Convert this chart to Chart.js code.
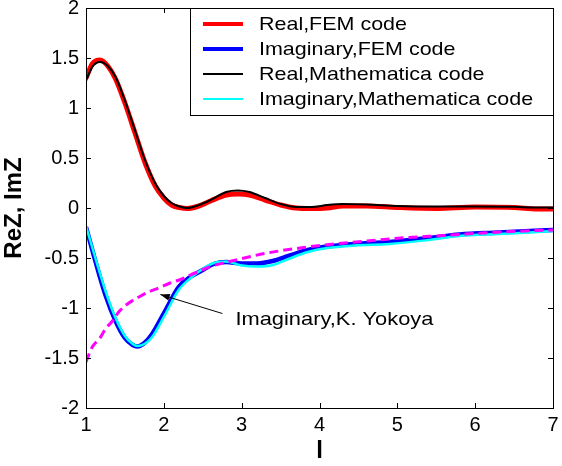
<!DOCTYPE html>
<html>
<head>
<meta charset="utf-8">
<script src="https://cdn.jsdelivr.net/npm/chart.js@4.4.0/dist/chart.umd.min.js"></script>
<style>
  html, body { margin: 0; padding: 0; background: #fff; }
  #wrap { width: 562px; height: 466px; }
</style>
</head>
<body>
<div id="wrap"><canvas id="zChart" width="562" height="466"></canvas></div>
<script>
// Valeurs
const xReal = [1.0, 1.08, 1.18, 1.28, 1.38, 1.5, 1.63, 1.76, 1.89, 2.0, 2.1, 2.2, 2.3, 2.45, 2.6, 2.8, 2.95, 3.1, 3.3, 3.5, 3.7, 3.9, 4.1, 4.3, 4.6, 5.0, 5.5, 6.0, 6.5, 6.8, 7.0];
const realFEM = [1.30, 1.44, 1.48, 1.42, 1.29, 1.05, 0.75, 0.45, 0.22, 0.10, 0.03, 0.005, -0.005, 0.02, 0.07, 0.13, 0.14, 0.13, 0.08, 0.03, 0.0, -0.005, 0.0, 0.02, 0.02, 0.005, -0.005, 0.01, 0.005, -0.01, -0.01];
const realMath = [1.27, 1.41, 1.46, 1.42, 1.31, 1.075, 0.775, 0.475, 0.245, 0.12, 0.05, 0.015, 0.0, 0.03, 0.08, 0.16, 0.175, 0.16, 0.10, 0.04, 0.01, 0.01, 0.03, 0.04, 0.035, 0.02, 0.015, 0.015, 0.012, 0.005, 0.005];

const xImag = [1.0, 1.12, 1.25, 1.38, 1.5, 1.6, 1.66, 1.75, 1.85, 2.02, 2.19, 2.36, 2.5, 2.64, 2.8, 3.0, 3.2, 3.4, 3.6, 3.85, 4.1, 4.45, 4.9, 5.4, 5.8, 6.3, 6.7, 7.0];
const imagFEM = [-0.19, -0.53, -0.87, -1.13, -1.30, -1.37, -1.385, -1.35, -1.26, -1.025, -0.79, -0.68, -0.62, -0.56, -0.54, -0.555, -0.555, -0.53, -0.48, -0.42, -0.385, -0.36, -0.34, -0.30, -0.265, -0.245, -0.23, -0.22];
const imagMath = [-0.18, -0.50, -0.83, -1.10, -1.28, -1.36, -1.38, -1.36, -1.29, -1.06, -0.82, -0.69, -0.61, -0.55, -0.535, -0.575, -0.585, -0.57, -0.51, -0.44, -0.40, -0.375, -0.36, -0.32, -0.28, -0.26, -0.245, -0.23];

const xYokoya = [1.0, 1.08, 1.18, 1.25, 1.35, 1.42, 1.55, 1.68, 1.8, 1.93, 2.08, 2.23, 2.4, 2.62, 2.9, 3.33, 3.75, 4.18, 4.61, 5.04, 5.6, 6.33, 7.0];
const imagYokoya = [-1.54, -1.39, -1.30, -1.21, -1.12, -1.04, -0.95, -0.89, -0.84, -0.80, -0.75, -0.71, -0.65, -0.58, -0.525, -0.45, -0.40, -0.36, -0.33, -0.30, -0.275, -0.24, -0.22];

const xTicks = [1, 2, 3, 4, 5, 6, 7];
const yTicks = [-2, -1.5, -1, -0.5, 0, 0.5, 1, 1.5, 2];

// flèche + texte de l'annotation (coordonnées données)
const noteText = 'Imaginary,K. Yokoya';
const notePos = { x: 2.92, y: -1.115 };
const arrowFrom = { x: 2.752, y: -1.055 };
const arrowTo = { x: 1.955, y: -0.865 };

const pts = (xs, ys) => xs.map((x, i) => ({ x, y: ys[i] }));

const FONT = 'Arial, "Liberation Sans", sans-serif';

// texte un peu étiré en largeur comme sur l'original
function wideText(c, txt, x, y, k) {
    c.save();
    c.translate(x, y);
    c.scale(k, 1);
    c.fillText(txt, 0, 0);
    c.restore();
}

// cadre + graduations intérieures façon Matlab
const boxPlugin = {
    id: 'boxTicks',
    afterDatasetsDraw(chart) {
        const c = chart.ctx, a = chart.chartArea;
        const sx = chart.scales.x, sy = chart.scales.y;
        c.save();
        c.strokeStyle = '#000';
        c.lineWidth = 1;
        c.beginPath();
        xTicks.forEach(v => {
            const px = Math.round(sx.getPixelForValue(v)) + 0.5;
            c.moveTo(px, a.bottom); c.lineTo(px, a.bottom - 5);
            c.moveTo(px, a.top); c.lineTo(px, a.top + 5);
        });
        yTicks.forEach(v => {
            const py = Math.round(sy.getPixelForValue(v)) + 0.5;
            c.moveTo(a.left, py); c.lineTo(a.left + 5, py);
            c.moveTo(a.right, py); c.lineTo(a.right - 5, py);
        });
        c.stroke();
        c.strokeRect(Math.round(a.left) + 0.5, Math.round(a.top) + 0.5, Math.round(a.right - a.left), Math.round(a.bottom - a.top));

        // annotation Yokoya
        const x0 = sx.getPixelForValue(arrowFrom.x), y0 = sy.getPixelForValue(arrowFrom.y);
        const x1 = sx.getPixelForValue(arrowTo.x), y1 = sy.getPixelForValue(arrowTo.y);
        const ang = Math.atan2(y1 - y0, x1 - x0);
        c.beginPath();
        c.moveTo(x0, y0); c.lineTo(x1, y1);
        c.stroke();
        c.beginPath();
        c.moveTo(x1, y1);
        c.lineTo(x1 - 10 * Math.cos(ang - 0.35), y1 - 10 * Math.sin(ang - 0.35));
        c.lineTo(x1 - 10 * Math.cos(ang + 0.35), y1 - 10 * Math.sin(ang + 0.35));
        c.closePath();
        c.fillStyle = '#000';
        c.fill();
        c.font = '19px ' + FONT;
        c.textBaseline = 'middle';
        c.textAlign = 'left';
        wideText(c, noteText, sx.getPixelForValue(notePos.x), sy.getPixelForValue(notePos.y), 1.15);

        // légende dans le coin haut droit
        const lw = 363, lh = 107;
        const lx = Math.round(a.right - lw), ly = Math.round(a.top);
        c.fillStyle = '#fff';
        c.fillRect(lx, ly, lw, lh);
        c.strokeRect(lx + 0.5, ly + 0.5, lw, lh);
        const items = chart.data.datasets.filter(d => d.inLegend);
        items.forEach((d, i) => {
            const yy = ly + 16 + i * 25;
            c.strokeStyle = d.borderColor;
            c.lineWidth = d.legendWidth;
            c.beginPath();
            c.moveTo(lx + 13, yy); c.lineTo(lx + 53, yy);
            c.stroke();
            c.fillStyle = '#000';
            wideText(c, d.label, lx + 69, yy + 1, 1.13);
        });
        c.restore();
    }
};

const ctx = document.getElementById('zChart').getContext('2d');
new Chart(ctx, {
    type: 'line',
    data: {
        datasets: [
            { label: 'Real,FEM code', data: pts(xReal, realFEM), borderColor: '#ff0000', borderWidth: 5, legendWidth: 4, inLegend: true, order: 4 },
            { label: 'Imaginary,FEM code', data: pts(xImag, imagFEM), borderColor: '#0000ff', borderWidth: 4.5, legendWidth: 4, inLegend: true, order: 3 },
            { label: 'Real,Mathematica code', data: pts(xReal, realMath), borderColor: '#000000', borderWidth: 2, legendWidth: 2, inLegend: true, order: 2 },
            { label: 'Imaginary,Mathematica code', data: pts(xImag, imagMath), borderColor: '#00ffff', borderWidth: 2.5, legendWidth: 2, inLegend: true, order: 1 },
            { label: 'Imaginary,K. Yokoya', data: pts(xYokoya, imagYokoya), borderColor: '#ff00ff', borderWidth: 3, borderDash: [9, 5], inLegend: false, order: 0 }
        ]
    },
    options: {
        responsive: false,
        animation: false,
        events: [],
        layout: { padding: { top: 8, right: 9, left: 0, bottom: 0 } },
        elements: {
            point: { radius: 0 },
            line: { tension: 0.4, cubicInterpolationMode: 'monotone', fill: false }
        },
        plugins: { legend: { display: false }, tooltip: { enabled: false } },
        scales: {
            x: {
                type: 'linear', min: 1, max: 7,
                afterBuildTicks: s => { s.ticks = xTicks.map(v => ({ value: v })); },
                afterFit: s => { s.height = 58; s.paddingLeft = 0; s.paddingRight = 0; },
                grid: { display: false, drawTicks: false },
                border: { display: false },
                ticks: { padding: 5, color: '#000', font: { family: FONT, size: 20 }, callback: v => String(v), maxRotation: 0 },
                title: { display: true, text: 'l', color: '#000', font: { family: FONT, size: 24, weight: 'bold' }, padding: { top: 0, bottom: 0 } }
            },
            y: {
                type: 'linear', min: -2, max: 2,
                afterBuildTicks: s => { s.ticks = yTicks.map(v => ({ value: v })); },
                afterFit: s => { s.width = 86; s.paddingTop = 0; s.paddingBottom = 0; },
                grid: { display: false, drawTicks: false },
                border: { display: false },
                ticks: { padding: 7, color: '#000', font: { family: FONT, size: 20 }, callback: v => String(v) },
                title: { display: true, text: 'ReZ, ImZ', color: '#000', font: { family: FONT, size: 24, weight: 'bold' }, padding: { top: 0, bottom: 4 } }
            }
        }
    },
    plugins: [boxPlugin]
});
</script>
</body>
</html>
